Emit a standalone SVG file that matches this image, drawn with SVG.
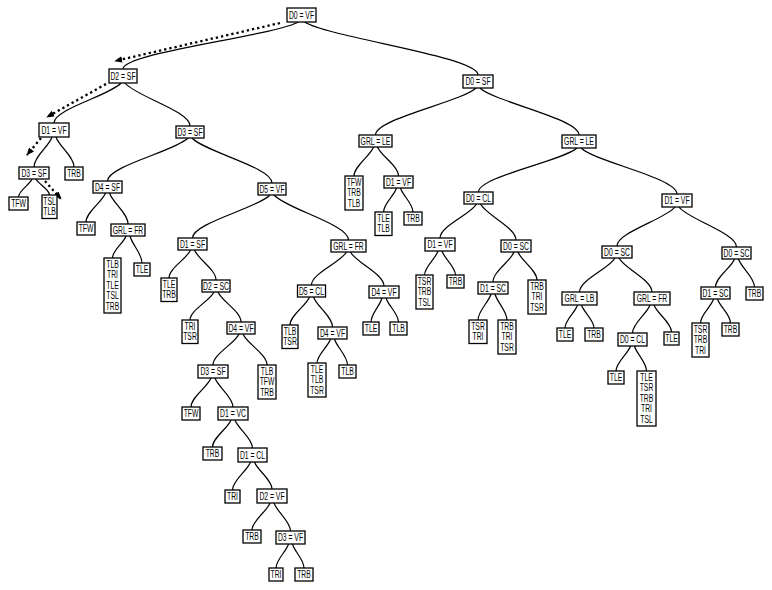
<svg xmlns="http://www.w3.org/2000/svg" width="772" height="590" viewBox="0 0 772 590">
<style>
rect{fill:#fff;stroke:#000;stroke-width:1.3}
text{font-family:"Liberation Sans",Arial,sans-serif;font-size:10px;text-anchor:middle;fill:#000}
.e path{fill:none;stroke:#000;stroke-width:1.2}
.d line{stroke:#000;stroke-width:2.3;stroke-dasharray:2.3 3}
</style>
<defs>
<marker id="ah" viewBox="0 0 10 8" refX="9" refY="4" markerWidth="8" markerHeight="6.4" markerUnits="userSpaceOnUse" orient="auto"><path d="M0 0L10 4L0 8z" fill="#000"/></marker>
</defs>
<g class="e" id="connectors">
<path d="M298.5 22C272.2 36.1 123 52.5 123 69"/>
<path d="M304.5 22C330.5 37.9 478 56.5 478 75"/>
<path d="M121 83C111 95 54 109 54 123"/>
<path d="M125 83C134.8 95.9 190 111 190 126"/>
<path d="M52 137C49.3 146 34 156.5 34 167"/>
<path d="M56 137C58.7 146 74 156.5 74 167"/>
<path d="M32 179C30 184.4 18.5 190.7 18.5 197"/>
<path d="M36 179C38 183.8 49.5 189.4 49.5 195"/>
<path d="M188 138C175.9 150.9 107.5 166 107.5 181"/>
<path d="M192 138C204 151.5 272 167.3 272 183"/>
<path d="M105.5 193C102.6 201.7 86 211.9 86 222"/>
<path d="M109.5 193C112.3 202.3 128 213.2 128 224"/>
<path d="M126 236C124 242.6 112.5 250.3 112.5 258"/>
<path d="M130 236C131.8 244.1 142 253.6 142 263"/>
<path d="M270 195C258.4 207.9 192.5 223 192.5 238"/>
<path d="M274 195C285.2 208.5 348.5 224.3 348.5 240"/>
<path d="M190.5 250C187.3 258.4 169 268.2 169 278"/>
<path d="M194.5 250C197.7 259 216 269.5 216 280"/>
<path d="M214 292C210.4 300.4 190 310.2 190 320"/>
<path d="M218 292C221.5 301 241 311.5 241 322"/>
<path d="M239 334C235.1 343.3 213 354.2 213 365"/>
<path d="M243 334C246.6 343.3 267 354.2 267 365"/>
<path d="M211 378C208 386.7 191 396.9 191 407"/>
<path d="M215 378C217.7 386.7 233 396.9 233 407"/>
<path d="M231 420C228.2 428.1 212.5 437.6 212.5 447"/>
<path d="M235 420C237.6 428.4 252.5 438.2 252.5 448"/>
<path d="M250.5 462C247.8 470.4 232.5 480.2 232.5 490"/>
<path d="M254.5 462C257.1 470.1 272 479.6 272 489"/>
<path d="M270 503C267.3 511.1 252 520.6 252 530"/>
<path d="M274 503C276.5 511.4 290.5 521.2 290.5 531"/>
<path d="M288.5 544C286.6 551.2 276 559.6 276 568"/>
<path d="M292.5 544C294.2 551.2 304 559.6 304 568"/>
<path d="M346.5 252C341.3 261.9 311.5 273.5 311.5 285"/>
<path d="M350.5 252C355.5 262.2 384 274.1 384 286"/>
<path d="M309.5 297C306.6 305.4 290 315.2 290 325"/>
<path d="M313.5 297C316.4 306 332.5 316.5 332.5 327"/>
<path d="M330.5 339C328.5 346.2 317 354.6 317 363"/>
<path d="M334.5 339C336.5 346.8 347.5 355.9 347.5 365"/>
<path d="M382 298C380.4 305.2 371 313.6 371 322"/>
<path d="M386 298C387.9 305.2 398.5 313.6 398.5 322"/>
<path d="M476 88C460.9 102.1 375.5 118.5 375.5 135"/>
<path d="M480 88C494.9 102.1 579 118.5 579 135"/>
<path d="M373.5 147C370.6 155.7 354 165.9 354 176"/>
<path d="M377.5 147C380.7 155.7 398.5 165.9 398.5 176"/>
<path d="M396.5 188C394.6 195.2 383.5 203.6 383.5 212"/>
<path d="M400.5 188C402.4 195.2 413 203.6 413 212"/>
<path d="M577 148C562.2 161.2 478.5 176.6 478.5 192"/>
<path d="M581 148C595.4 161.8 677 177.9 677 194"/>
<path d="M476.5 204C471 214.2 440 226.1 440 238"/>
<path d="M480.5 204C485.8 214.8 516 227.4 516 240"/>
<path d="M438 251C436 258.2 424.5 266.6 424.5 275"/>
<path d="M442 251C444 258.2 455.5 266.6 455.5 275"/>
<path d="M514 252C510.9 261 493 271.5 493 282"/>
<path d="M518 252C520.9 260.4 537 270.2 537 280"/>
<path d="M491 294C489 301.8 478 310.9 478 320"/>
<path d="M495 294C496.8 301.8 507 310.9 507 320"/>
<path d="M675 207C666.3 218.7 617 232.4 617 246"/>
<path d="M679 207C687.6 219 736.5 233 736.5 247"/>
<path d="M615 258C609.7 268.2 579.5 280.1 579.5 292"/>
<path d="M619 258C624 268.2 652 280.1 652 292"/>
<path d="M577.5 305C575.6 311.9 565 320 565 328"/>
<path d="M581.5 305C583.4 311.9 594 320 594 328"/>
<path d="M650 305C647.4 313.4 632.5 323.2 632.5 333"/>
<path d="M654 305C656.6 313.1 671.5 322.6 671.5 332"/>
<path d="M630.5 346C628.3 353.5 616 362.3 616 371"/>
<path d="M634.5 346C636.3 353.5 646.5 362.3 646.5 371"/>
<path d="M734.5 259C731.7 267.4 715.5 277.2 715.5 287"/>
<path d="M738.5 259C740.9 267.4 754.5 277.2 754.5 287"/>
<path d="M713.5 299C711.6 306.2 700.5 314.6 700.5 323"/>
<path d="M717.5 299C719.5 306.2 730.5 314.6 730.5 323"/>
</g>
<g class="d" id="path-arrows">
<line x1="280" y1="23" x2="115" y2="61" marker-end="url(#ah)"/>
<line x1="106" y1="84" x2="47" y2="117" marker-end="url(#ah)"/>
<line x1="41" y1="138" x2="27" y2="155" marker-end="url(#ah)"/>
<line x1="45" y1="181" x2="61" y2="199" marker-end="url(#ah)"/>
</g>
<g id="n1"><rect x="287" y="8" width="29" height="14"/><text transform="translate(301.5 18.7) scale(.68 1)">D0 = VF</text></g>
<g id="n2"><rect x="109" y="69" width="28" height="14"/><text transform="translate(123 79.7) scale(.68 1)">D2 = SF</text></g>
<g id="n3"><rect x="39" y="123" width="30" height="14"/><text transform="translate(54 133.7) scale(.68 1)">D1 = VF</text></g>
<g id="n4"><rect x="19" y="167" width="30" height="12"/><text transform="translate(34 176.7) scale(.68 1)">D3 = SF</text></g>
<g id="n5"><rect x="176" y="126" width="28" height="12"/><text transform="translate(190 135.7) scale(.68 1)">D3 = SF</text></g>
<g id="n6"><rect x="93" y="181" width="29" height="12"/><text transform="translate(107.5 190.7) scale(.68 1)">D4 = SF</text></g>
<g id="n7"><rect x="111" y="224" width="34" height="12"/><text transform="translate(128 233.7) scale(.68 1)">GRL = FR</text></g>
<g id="n8"><rect x="258" y="183" width="28" height="12"/><text transform="translate(272 192.7) scale(.68 1)">D5 = VF</text></g>
<g id="n9"><rect x="178" y="238" width="29" height="12"/><text transform="translate(192.5 247.7) scale(.68 1)">D1 = SF</text></g>
<g id="n10"><rect x="202" y="280" width="28" height="12"/><text transform="translate(216 289.7) scale(.68 1)">D2 = SC</text></g>
<g id="n11"><rect x="227" y="322" width="28" height="12"/><text transform="translate(241 331.7) scale(.68 1)">D4 = VF</text></g>
<g id="n12"><rect x="198" y="365" width="30" height="13"/><text transform="translate(213 375.2) scale(.68 1)">D3 = SF</text></g>
<g id="n13"><rect x="218" y="407" width="30" height="13"/><text transform="translate(233 417.2) scale(.68 1)">D1 = VC</text></g>
<g id="n14"><rect x="238" y="448" width="29" height="14"/><text transform="translate(252.5 458.7) scale(.68 1)">D1 = CL</text></g>
<g id="n15"><rect x="257" y="489" width="30" height="14"/><text transform="translate(272 499.7) scale(.68 1)">D2 = VF</text></g>
<g id="n16"><rect x="276" y="531" width="29" height="13"/><text transform="translate(290.5 541.2) scale(.68 1)">D3 = VF</text></g>
<g id="n17"><rect x="331" y="240" width="35" height="12"/><text transform="translate(348.5 249.7) scale(.68 1)">GRL = FR</text></g>
<g id="n18"><rect x="297.5" y="285" width="28" height="12"/><text transform="translate(311.5 294.7) scale(.68 1)">D5 = CL</text></g>
<g id="n19"><rect x="318" y="327" width="29" height="12"/><text transform="translate(332.5 336.7) scale(.68 1)">D4 = VF</text></g>
<g id="n20"><rect x="369" y="286" width="30" height="12"/><text transform="translate(384 295.7) scale(.68 1)">D4 = VF</text></g>
<g id="n21"><rect x="463" y="75" width="30" height="13"/><text transform="translate(478 85.2) scale(.68 1)">D0 = SF</text></g>
<g id="n22"><rect x="359" y="135" width="33" height="12"/><text transform="translate(375.5 144.7) scale(.68 1)">GRL = LE</text></g>
<g id="n23"><rect x="384" y="176" width="29" height="12"/><text transform="translate(398.5 185.7) scale(.68 1)">D1 = VF</text></g>
<g id="n24"><rect x="562" y="135" width="34" height="13"/><text transform="translate(579 145.2) scale(.68 1)">GRL = LE</text></g>
<g id="n25"><rect x="464" y="192" width="29" height="12"/><text transform="translate(478.5 201.7) scale(.68 1)">D0 = CL</text></g>
<g id="n26"><rect x="425" y="238" width="30" height="13"/><text transform="translate(440 248.2) scale(.68 1)">D1 = VF</text></g>
<g id="n27"><rect x="501" y="240" width="30" height="12"/><text transform="translate(516 249.7) scale(.68 1)">D0 = SC</text></g>
<g id="n28"><rect x="478" y="282" width="30" height="12"/><text transform="translate(493 291.7) scale(.68 1)">D1 = SC</text></g>
<g id="n29"><rect x="662" y="194" width="30" height="13"/><text transform="translate(677 204.2) scale(.68 1)">D1 = VF</text></g>
<g id="n30"><rect x="602" y="246" width="30" height="12"/><text transform="translate(617 255.7) scale(.68 1)">D0 = SC</text></g>
<g id="n31"><rect x="562" y="292" width="35" height="13"/><text transform="translate(579.5 302.2) scale(.68 1)">GRL = LB</text></g>
<g id="n32"><rect x="634" y="292" width="36" height="13"/><text transform="translate(652 302.2) scale(.68 1)">GRL = FR</text></g>
<g id="n33"><rect x="618" y="333" width="29" height="13"/><text transform="translate(632.5 343.2) scale(.68 1)">D0 = CL</text></g>
<g id="n34"><rect x="722" y="247" width="29" height="12"/><text transform="translate(736.5 256.7) scale(.68 1)">D0 = SC</text></g>
<g id="n35"><rect x="701" y="287" width="29" height="12"/><text transform="translate(715.5 296.7) scale(.68 1)">D1 = SC</text></g>
<g id="l1"><rect x="65" y="167" width="18" height="13"/><text transform="translate(74 176.9) scale(.68 1)">TRB</text></g>
<g id="l2"><rect x="9" y="197" width="19" height="13"/><text transform="translate(18.5 206.9) scale(.68 1)">TFW</text></g>
<g id="l3"><rect x="42" y="195" width="15" height="23.5"/><text transform="translate(49.5 204.9) scale(.68 1)">TSL<tspan x="0" dy="10.5">TLB</tspan></text></g>
<g id="l4"><rect x="77" y="222" width="18" height="13"/><text transform="translate(86 231.9) scale(.68 1)">TFW</text></g>
<g id="l5"><rect x="104" y="258" width="17" height="55"/><text transform="translate(112.5 267.9) scale(.68 1)">TLB<tspan x="0" dy="10.5">TRI</tspan><tspan x="0" dy="10.5">TLE</tspan><tspan x="0" dy="10.5">TSL</tspan><tspan x="0" dy="10.5">TRB</tspan></text></g>
<g id="l6"><rect x="134" y="263" width="16" height="13"/><text transform="translate(142 272.9) scale(.68 1)">TLE</text></g>
<g id="l7"><rect x="161" y="278" width="16" height="23.5"/><text transform="translate(169 287.9) scale(.68 1)">TLE<tspan x="0" dy="10.5">TRB</tspan></text></g>
<g id="l8"><rect x="182" y="320" width="16" height="23.5"/><text transform="translate(190 329.9) scale(.68 1)">TRI<tspan x="0" dy="10.5">TSR</tspan></text></g>
<g id="l9"><rect x="258" y="365" width="18" height="34"/><text transform="translate(267 374.9) scale(.68 1)">TLB<tspan x="0" dy="10.5">TFW</tspan><tspan x="0" dy="10.5">TRB</tspan></text></g>
<g id="l10"><rect x="182" y="407" width="18" height="13"/><text transform="translate(191 416.9) scale(.68 1)">TFW</text></g>
<g id="l11"><rect x="203" y="447" width="19" height="13"/><text transform="translate(212.5 456.9) scale(.68 1)">TRB</text></g>
<g id="l12"><rect x="225" y="490" width="15" height="13"/><text transform="translate(232.5 499.9) scale(.68 1)">TRI</text></g>
<g id="l13"><rect x="243" y="530" width="18" height="13"/><text transform="translate(252 539.9) scale(.68 1)">TRB</text></g>
<g id="l14"><rect x="269" y="568" width="14" height="13"/><text transform="translate(276 577.9) scale(.68 1)">TRI</text></g>
<g id="l15"><rect x="295" y="568" width="18" height="13"/><text transform="translate(304 577.9) scale(.68 1)">TRB</text></g>
<g id="l16"><rect x="282" y="325" width="16" height="23.5"/><text transform="translate(290 334.9) scale(.68 1)">TLB<tspan x="0" dy="10.5">TSR</tspan></text></g>
<g id="l17"><rect x="308" y="363" width="18" height="34"/><text transform="translate(317 372.9) scale(.68 1)">TLE<tspan x="0" dy="10.5">TLB</tspan><tspan x="0" dy="10.5">TSR</tspan></text></g>
<g id="l18"><rect x="339" y="365" width="17" height="13"/><text transform="translate(347.5 374.9) scale(.68 1)">TLB</text></g>
<g id="l19"><rect x="363" y="322" width="16" height="13"/><text transform="translate(371 331.9) scale(.68 1)">TLE</text></g>
<g id="l20"><rect x="390" y="322" width="17" height="13"/><text transform="translate(398.5 331.9) scale(.68 1)">TLB</text></g>
<g id="l21"><rect x="345" y="176" width="18" height="34"/><text transform="translate(354 185.9) scale(.68 1)">TFW<tspan x="0" dy="10.5">TRB</tspan><tspan x="0" dy="10.5">TLB</tspan></text></g>
<g id="l22"><rect x="375" y="212" width="17" height="23.5"/><text transform="translate(383.5 221.9) scale(.68 1)">TLE<tspan x="0" dy="10.5">TLB</tspan></text></g>
<g id="l23"><rect x="404" y="212" width="18" height="13"/><text transform="translate(413 221.9) scale(.68 1)">TRB</text></g>
<g id="l24"><rect x="416" y="275" width="17" height="34"/><text transform="translate(424.5 284.9) scale(.68 1)">TSR<tspan x="0" dy="10.5">TRB</tspan><tspan x="0" dy="10.5">TSL</tspan></text></g>
<g id="l25"><rect x="447" y="275" width="17" height="13"/><text transform="translate(455.5 284.9) scale(.68 1)">TRB</text></g>
<g id="l26"><rect x="469" y="320" width="18" height="23.5"/><text transform="translate(478 329.9) scale(.68 1)">TSR<tspan x="0" dy="10.5">TRI</tspan></text></g>
<g id="l27"><rect x="498" y="320" width="18" height="34"/><text transform="translate(507 329.9) scale(.68 1)">TRB<tspan x="0" dy="10.5">TRI</tspan><tspan x="0" dy="10.5">TSR</tspan></text></g>
<g id="l28"><rect x="528" y="280" width="18" height="34"/><text transform="translate(537 289.9) scale(.68 1)">TRB<tspan x="0" dy="10.5">TRI</tspan><tspan x="0" dy="10.5">TSR</tspan></text></g>
<g id="l29"><rect x="557" y="328" width="16" height="13"/><text transform="translate(565 337.9) scale(.68 1)">TLE</text></g>
<g id="l30"><rect x="585" y="328" width="18" height="13"/><text transform="translate(594 337.9) scale(.68 1)">TRB</text></g>
<g id="l31"><rect x="608" y="371" width="16" height="13"/><text transform="translate(616 380.9) scale(.68 1)">TLE</text></g>
<g id="l32"><rect x="637" y="371" width="19" height="55"/><text transform="translate(646.5 380.9) scale(.68 1)">TLE<tspan x="0" dy="10.5">TSR</tspan><tspan x="0" dy="10.5">TRB</tspan><tspan x="0" dy="10.5">TRI</tspan><tspan x="0" dy="10.5">TSL</tspan></text></g>
<g id="l33"><rect x="664" y="332" width="15" height="13"/><text transform="translate(671.5 341.9) scale(.68 1)">TLE</text></g>
<g id="l34"><rect x="692" y="323" width="17" height="34"/><text transform="translate(700.5 332.9) scale(.68 1)">TSR<tspan x="0" dy="10.5">TRB</tspan><tspan x="0" dy="10.5">TRI</tspan></text></g>
<g id="l35"><rect x="722" y="323" width="17" height="13"/><text transform="translate(730.5 332.9) scale(.68 1)">TRB</text></g>
<g id="l36"><rect x="746" y="287" width="17" height="13"/><text transform="translate(754.5 296.9) scale(.68 1)">TRB</text></g>
</svg>
